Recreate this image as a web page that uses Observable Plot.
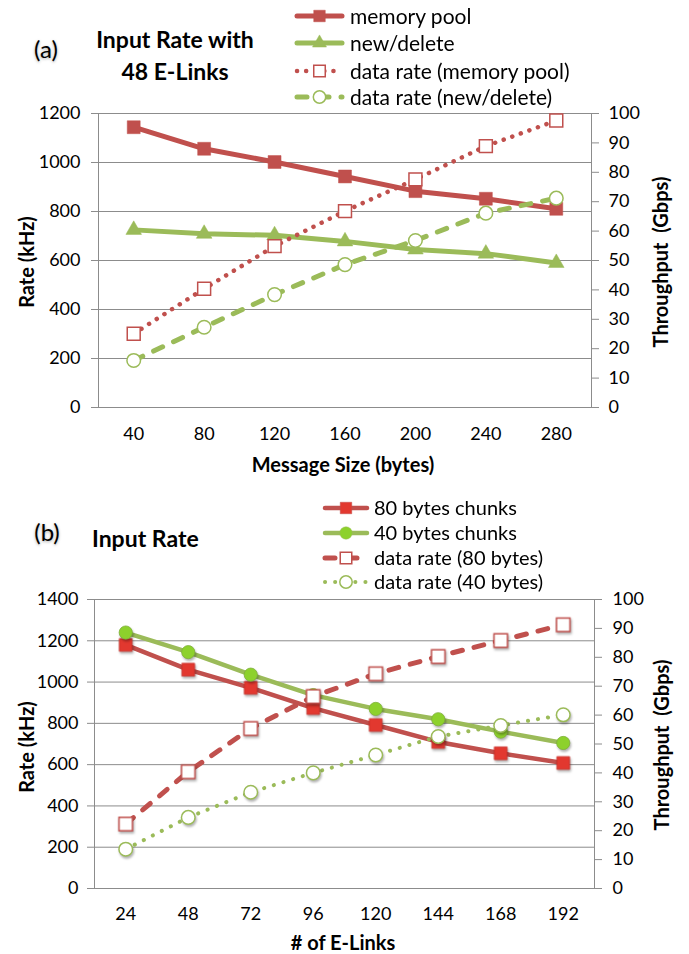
<!DOCTYPE html>
<html>
<head>
<meta charset="utf-8">
<script src="https://cdn.jsdelivr.net/npm/d3@7"></script>
<script src="https://cdn.jsdelivr.net/npm/@observablehq/plot@0.6"></script>
<style>
  body { margin: 0; background: #fff; font-family: Lato, "Open Sans", sans-serif; }
  #wrap { position: relative; width: 689px; height: 954px; overflow: hidden; background: #fff; }
  .abs { position: absolute; white-space: pre; line-height: 1; color: #000; }
  .c { transform: translate(-50%, -50%); }
  .v { transform: translate(-50%, -50%) rotate(-90deg); }
  .tag { font-size: 24px; text-shadow: 0 1px 3px rgba(0,0,0,0.35); }
  .ttl { font-size: 23px; font-weight: bold; text-align: center; }
  .axt { font-size: 20px; font-weight: bold; }
  #plotA, #plotB { position: absolute; left: 0; }
  #plotA { top: 0; }
  #plotB { top: 480px; }
  #plotB g[aria-label="dot"] { filter: drop-shadow(1px 2px 1.2px rgba(0,0,0,0.3)); }
  svg.leg { position: absolute; left: 0; overflow: visible; }
</style>
</head>
<body>
<div id="wrap">
  <div id="plotA"></div>
  <div id="plotB"></div>
</div>
<script>
// ---------- Data: chart (a) ----------
const sizes = [40, 80, 120, 160, 200, 240, 280];
const memoryPool = [1144, 1056, 1002, 943, 883, 852, 811];          // kHz
const newDelete = [725, 709, 703, 678, 645, 628, 590];              // kHz
const dataRateMemoryPool = [25.1, 40.4, 54.9, 66.8, 77.6, 88.9, 97.6]; // Gbps
const dataRateNewDelete = [16.0, 27.3, 38.4, 48.6, 56.8, 66.1, 71.2];  // Gbps
const rateTicksA = [0, 200, 400, 600, 800, 1000, 1200];
const tputTicks = [0, 10, 20, 30, 40, 50, 60, 70, 80, 90, 100];

// ---------- Data: chart (b) ----------
const links = [24, 48, 72, 96, 120, 144, 168, 192];
const chunks80 = [1180, 1060, 972, 874, 792, 710, 655, 608];       // kHz
const chunks40 = [1240, 1145, 1036, 937, 870, 820, 760, 705];      // kHz
const dataRate80 = [22.3, 40.4, 55.4, 66.4, 74.3, 80.3, 85.8, 91.3]; // Gbps
const dataRate40 = [13.6, 24.6, 33.3, 40.0, 46.2, 52.6, 56.4, 60.1]; // Gbps
const rateTicksB = [0, 200, 400, 600, 800, 1000, 1200, 1400];

const RED = "#C0504D", GREEN = "#9BBB59", GRID = "#8c8c8c";
const RED_FILL = "#E2382F", GREEN_FILL = "#8DD12C";

// secondary axis factor (left max / right max)
const kA = rateTicksA[rateTicksA.length - 1] / tputTicks[tputTicks.length - 1];
const kB = rateTicksB[rateTicksB.length - 1] / tputTicks[tputTicks.length - 1];

const tableA = sizes.map((s, i) => ({
  x: s, mem: memoryPool[i], nd: newDelete[i],
  drm: dataRateMemoryPool[i] * kA, drn: dataRateNewDelete[i] * kA
}));
const tableB = links.map((s, i) => ({
  x: s, c80: chunks80[i], c40: chunks40[i],
  d80: dataRate80[i] * kB, d40: dataRate40[i] * kB
}));

const baseStyle = { fontFamily: "Lato, 'Open Sans', sans-serif", fontSize: "18px", color: "#000", background: "transparent", overflow: "visible" };
const plain = d => String(d);

const plotA = Plot.plot({
  width: 689, height: 480,
  marginTop: 113, marginBottom: 73, marginLeft: 98, marginRight: 98,
  x: { type: "linear", domain: [20, 300], label: null },
  y: { domain: [0, 1200], label: null },
  style: baseStyle,
  marks: [
    Plot.gridY(rateTicksA, { stroke: GRID, strokeOpacity: 1 }),
    Plot.frame({ stroke: GRID }),
    Plot.axisY(rateTicksA, { anchor: "left", tickSize: 7, tickPadding: 11, stroke: GRID, tickFormat: plain, label: null }),
    Plot.axisY(tputTicks.map(v => v * kA), { anchor: "right", tickSize: 7, tickPadding: 10, stroke: GRID, tickFormat: d => String(Math.round(d / kA)), label: null }),
    Plot.axisX(sizes, { anchor: "bottom", tickSize: 0, tickPadding: 20, tickFormat: plain, label: null }),
    // memory pool
    Plot.line(tableA, { x: "x", y: "mem", stroke: RED, strokeWidth: 5 }),
    Plot.dot(tableA, { x: "x", y: "mem", symbol: "square", r: 7.3, fill: RED, stroke: RED, strokeWidth: 0.5 }),
    // new/delete
    Plot.line(tableA, { x: "x", y: "nd", stroke: GREEN, strokeWidth: 5 }),
    Plot.dot(tableA, { x: "x", y: "nd", symbol: "triangle", r: 5.8, fill: GREEN, stroke: GREEN, strokeWidth: 0.5 }),
    // data rate (memory pool)
    Plot.line(tableA, { x: "x", y: "drm", stroke: RED, strokeWidth: 4.5, strokeDasharray: "0.1 9", strokeLinecap: "round" }),
    Plot.dot(tableA, { x: "x", y: "drm", symbol: "square", r: 7.3, fill: "white", stroke: RED, strokeWidth: 1.5 }),
    // data rate (new/delete)
    Plot.line(tableA, { x: "x", y: "drn", stroke: GREEN, strokeWidth: 5, strokeDasharray: "10 12", strokeLinecap: "round" }),
    Plot.dot(tableA, { x: "x", y: "drn", symbol: "circle", r: 6.8, fill: "white", stroke: GREEN, strokeWidth: 1.5 })
  ]
});
document.getElementById("plotA").appendChild(plotA);

const plotB = Plot.plot({
  width: 689, height: 474,
  marginTop: 119, marginBottom: 66, marginLeft: 94, marginRight: 95,
  x: { type: "linear", domain: [12, 204], label: null },
  y: { domain: [0, 1400], label: null },
  style: baseStyle,
  marks: [
    Plot.gridY(rateTicksB, { stroke: GRID, strokeOpacity: 1 }),
    Plot.frame({ stroke: GRID }),
    Plot.axisY(rateTicksB, { anchor: "left", tickSize: 7, tickPadding: 9, stroke: GRID, tickFormat: plain, label: null }),
    Plot.axisY(tputTicks.map(v => v * kB), { anchor: "right", tickSize: 7, tickPadding: 11, stroke: GRID, tickFormat: d => String(Math.round(d / kB)), label: null }),
    Plot.axisX(links, { anchor: "bottom", tickSize: 0, tickPadding: 19, tickFormat: plain, label: null }),
    // 80 bytes chunks
    Plot.line(tableB, { x: "x", y: "c80", stroke: RED, strokeWidth: 4.5 }),
    Plot.dot(tableB, { x: "x", y: "c80", symbol: "square", r: 7.2, fill: RED_FILL, stroke: "#C9302A", strokeWidth: 0.8 }),
    // 40 bytes chunks
    Plot.line(tableB, { x: "x", y: "c40", stroke: GREEN, strokeWidth: 4.5 }),
    Plot.dot(tableB, { x: "x", y: "c40", symbol: "circle", r: 6.6, fill: GREEN_FILL, stroke: "#7FB03A", strokeWidth: 0.8 }),
    // data rate (80 bytes)
    Plot.line(tableB, { x: "x", y: "d80", stroke: RED, strokeWidth: 5, strokeDasharray: "10 12", strokeLinecap: "round" }),
    Plot.dot(tableB, { x: "x", y: "d80", symbol: "square", r: 7.6, fill: "white", stroke: RED, strokeWidth: 1.5 }),
    // data rate (40 bytes)
    Plot.line(tableB, { x: "x", y: "d40", stroke: GREEN, strokeWidth: 4, strokeDasharray: "0.1 10", strokeLinecap: "round" }),
    Plot.dot(tableB, { x: "x", y: "d40", symbol: "circle", r: 6.8, fill: "white", stroke: GREEN, strokeWidth: 1.5 })
  ]
});
document.getElementById("plotB").appendChild(plotB);

// ---------- Titles & axis titles ----------
const wrap = document.getElementById("wrap");
function addText(txt, cls, x, y, extra) {
  const d = document.createElement("div");
  d.className = "abs " + cls;
  d.textContent = txt;
  d.style.left = x + "px";
  d.style.top = y + "px";
  if (extra) Object.assign(d.style, extra);
  wrap.appendChild(d);
  return d;
}
addText("(a)", "tag c", 46, 49);
addText("Input Rate with", "ttl c", 175, 39);
addText("48 E-Links", "ttl c", 175, 71);
addText("Rate (kHz)", "axt v", 26, 262);
addText("Throughput  (Gbps)", "axt v", 660, 262);
addText("Message Size (bytes)", "axt c", 343, 464);

addText("(b)", "tag c", 47, 532);
addText("Input Rate", "ttl", 92, 527);
addText("Rate (kHz)", "axt v", 26, 747);
addText("Throughput  (Gbps)", "axt v", 661, 745);
addText("# of E-Links", "axt c", 343, 942);

// ---------- Legends ----------
const legendA = [
  { label: "memory pool", color: RED, width: 5, dash: null, symbol: d3.symbolSquare, r: 6.5, fill: RED },
  { label: "new/delete", color: GREEN, width: 5, dash: null, symbol: d3.symbolTriangle, r: 5.2, fill: GREEN },
  { label: "data rate (memory pool)", color: RED, width: 4.5, dash: "0.1 9", symbol: d3.symbolSquare, r: 6.5, fill: "white" },
  { label: "data rate (new/delete)", color: GREEN, width: 5, dash: "10 12", symbol: d3.symbolCircle, r: 6.2, fill: "white" }
];
const legendB = [
  { label: "80 bytes chunks", color: RED, width: 4.5, dash: null, symbol: d3.symbolSquare, r: 6.5, fill: RED_FILL },
  { label: "40 bytes chunks", color: GREEN, width: 4.5, dash: null, symbol: d3.symbolCircle, r: 6.2, fill: GREEN_FILL },
  { label: "data rate (80 bytes)", color: RED, width: 5, dash: "10 12", symbol: d3.symbolSquare, r: 6.5, fill: "white" },
  { label: "data rate (40 bytes)", color: GREEN, width: 4, dash: "0.1 10", symbol: d3.symbolCircle, r: 6.2, fill: "white" }
];

function drawLegend(entries, x0, x1, tx, ys, fontSize) {
  const svg = d3.select(wrap).append("svg")
    .attr("class", "leg").attr("width", 689).attr("height", 954)
    .style("top", "0px").style("pointer-events", "none");
  entries.forEach((e, i) => {
    const y = ys[i];
    const g = svg.append("g");
    g.append("line").attr("x1", x0 + 3).attr("x2", x1 - 3).attr("y1", y).attr("y2", y)
      .attr("stroke", e.color).attr("stroke-width", e.width)
      .attr("stroke-linecap", "round")
      .attr("stroke-dasharray", e.dash);
    g.append("path")
      .attr("transform", `translate(${(x0 + x1) / 2},${y})`)
      .attr("d", d3.symbol(e.symbol, Math.PI * e.r * e.r)())
      .attr("fill", e.fill).attr("stroke", e.color).attr("stroke-width", e.fill === "white" ? 1.5 : 0.5);
    g.append("text").attr("x", tx).attr("y", y).attr("dy", "0.36em")
      .attr("font-family", "Lato, 'Open Sans', sans-serif").attr("font-size", fontSize)
      .attr("fill", "#000").text(e.label);
  });
}
drawLegend(legendA, 294, 345, 350, [16, 43, 71, 97], 21);
drawLegend(legendB, 322, 370, 374, [508, 533, 558, 582], 20);
</script>
</body>
</html>
